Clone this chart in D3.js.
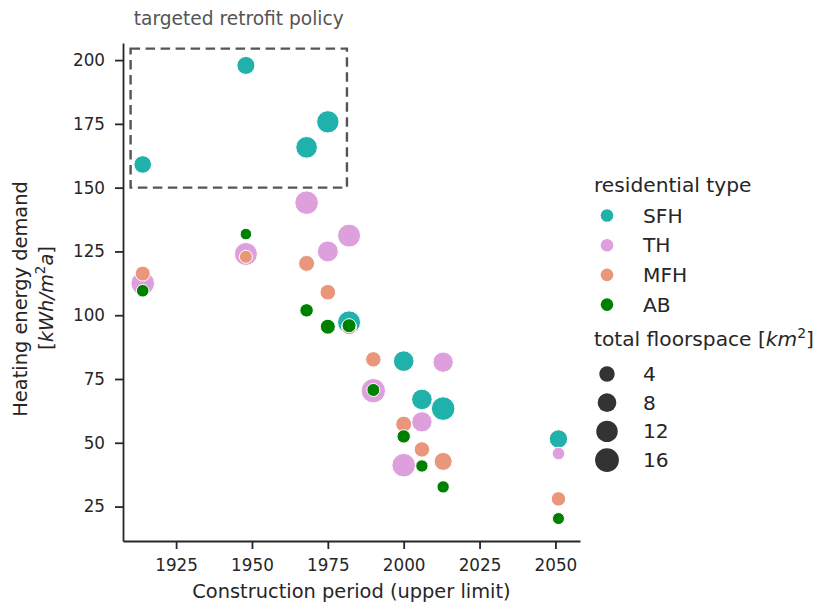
<!DOCTYPE html>
<html>
<head>
<meta charset="utf-8">
<script src="https://cdn.jsdelivr.net/npm/d3@7"></script>
<style>
  html, body { margin: 0; padding: 0; background: #fff; }
  svg { display: block; font-family: "DejaVu Sans", sans-serif; }
</style>
</head>
<body>
<svg id="chart" width="820" height="604"></svg>
<script>
// Construction period (upper limit) shared by all residential types
const years = [1914, 1948, 1968, 1975, 1982, 1990, 2000, 2006, 2013, 2051];

// Residential types and their colours
const types = ["SFH", "TH", "MFH", "AB"];
const typeColors = ["#20B2AA", "#DDA0DD", "#E9967A", "#008000"];

// Heating energy demand [kWh/m²a] per type and period (null = no stock)
const sfhDemand = [159.1, 197.9, 165.8, 175.8, 97.2, null, 82.0, 67.0, 63.4, 51.5];
const thDemand  = [112.5, 124.0, 144.1, 125.0, 131.2, 70.4, 41.2, 58.2, 81.6, 45.8];
const mfhDemand = [116.3, 122.9, 120.3, 109.0, 95.3, 82.7, 57.3, 47.4, 42.7, 28.0];
const abDemand  = [109.6, 131.8, 101.9, 95.5, 95.9, 70.7, 52.5, 40.9, 32.7, 20.3];

// Total floorspace [km²] per type and period
const sfhFloor = [6.6, 7.1, 12.3, 13.5, 14.5, null, 10.7, 10.7, 15.5, 7.6];
const thFloor  = [15.5, 14.5, 15.5, 11.3, 14.5, 16.9, 15.5, 10.4, 10.4, 1.1];
const mfhFloor = [3.5, 1.5, 4.6, 4.2, 3.5, 4.0, 4.6, 4.0, 7.1, 2.9];
const abFloor  = [1.1, 0.2, 1.9, 3.5, 2.5, 1.5, 1.9, 0.9, 0.9, 0.6];

// Axis ticks and size-legend entries
const xTicks = [1925, 1950, 1975, 2000, 2025, 2050];
const yTicks = [25, 50, 75, 100, 125, 150, 175, 200];
const sizeLegend = [4, 8, 12, 16];

// Highlighted region for the retrofit policy: [x0, x1] years, [y0, y1] demand
const policyYears = [1910, 1981.3];
const policyDemand = [150, 204.5];

const demandByType = [sfhDemand, thDemand, mfhDemand, abDemand];
const floorByType = [sfhFloor, thFloor, mfhFloor, abFloor];

const points = [];
types.forEach((t, ti) => {
  years.forEach((yr, i) => {
    const d = demandByType[ti][i];
    const f = floorByType[ti][i];
    if (d != null && f != null) points.push({ type: t, year: yr, demand: d, floor: f });
  });
});

const svg = d3.select("#chart");
const plotLeft = 123, plotRight = 580, plotTop = 43, plotBottom = 541;
const ink = "#262626";
const mathFont = "'DejaVu Sans', sans-serif";

const x = d3.scaleLinear().domain([1907.5, 2058.1]).range([plotLeft, plotRight]);
const y = d3.scaleLinear().domain([11.5, 206.7]).range([plotBottom, plotTop]);
const color = d3.scaleOrdinal().domain(types).range(typeColors);
// marker area grows linearly with floorspace
const area = d3.scaleLinear().domain([0, 16]).range([32, 142.4]);
const radius = v => Math.sqrt(area(v));

// Dashed policy box
svg.append("rect")
  .attr("x", x(policyYears[0]))
  .attr("y", y(policyDemand[1]))
  .attr("width", x(policyYears[1]) - x(policyYears[0]))
  .attr("height", y(policyDemand[0]) - y(policyDemand[1]))
  .attr("fill", "none")
  .attr("stroke", "#555")
  .attr("stroke-width", 2.4)
  .attr("stroke-dasharray", "9.5,5.5");

svg.append("text")
  .attr("x", (x(policyYears[0]) + x(policyYears[1])) / 2)
  .attr("y", 25)
  .attr("text-anchor", "middle")
  .attr("font-size", 18.6)
  .attr("fill", "#555")
  .text("targeted retrofit policy");

// Points
svg.append("g")
  .selectAll("circle")
  .data(points)
  .join("circle")
  .attr("cx", d => x(d.year))
  .attr("cy", d => y(d.demand))
  .attr("r", d => radius(d.floor))
  .attr("fill", d => color(d.type))
  .attr("stroke", "#fff")
  .attr("stroke-width", 1);

// Axes
const xAxis = svg.append("g")
  .attr("transform", `translate(0,${plotBottom})`)
  .call(d3.axisBottom(x).tickValues(xTicks).tickFormat(d3.format("d")).tickSize(8).tickPadding(10).tickSizeOuter(0));
const yAxis = svg.append("g")
  .attr("transform", `translate(${plotLeft},0)`)
  .call(d3.axisLeft(y).tickValues(yTicks).tickSize(8).tickPadding(10).tickSizeOuter(0));

[xAxis, yAxis].forEach(g => {
  g.select(".domain").attr("stroke", ink).attr("stroke-width", 1.8);
  g.selectAll(".tick line").attr("stroke", ink).attr("stroke-width", 1.8);
  g.selectAll(".tick text").attr("fill", ink).attr("font-size", 16.8)
    .attr("font-family", "'DejaVu Sans', sans-serif");
});

// Axis labels
svg.append("text")
  .attr("x", (plotLeft + plotRight) / 2)
  .attr("y", 598)
  .attr("text-anchor", "middle")
  .attr("font-size", 19.4)
  .attr("fill", ink)
  .text("Construction period (upper limit)");

svg.append("text")
  .attr("transform", "translate(27,299) rotate(-90)")
  .attr("text-anchor", "middle")
  .attr("font-size", 19.4)
  .attr("fill", ink)
  .text("Heating energy demand");

const yl2 = svg.append("text")
  .attr("transform", "translate(53,298) rotate(-90)")
  .attr("text-anchor", "middle")
  .attr("font-size", 19.4)
  .attr("fill", ink);
yl2.append("tspan").text("[");
yl2.append("tspan").attr("font-family", mathFont).attr("font-style", "italic").text("kWh/m");
yl2.append("tspan").attr("font-size", 13.5).attr("dy", -8).text("2");
yl2.append("tspan").attr("font-family", mathFont).attr("font-style", "italic").attr("dy", 8).text("a");
yl2.append("tspan").text("]");

// Legend: residential type
const lg = svg.append("g");
lg.append("text").attr("x", 594).attr("y", 192).attr("font-size", 20.2).attr("fill", ink).text("residential type");
types.forEach((t, i) => {
  const cy = 215.5 + i * 29.7;
  lg.append("circle").attr("cx", 607).attr("cy", cy).attr("r", 6.3).attr("fill", color(t));
  lg.append("text").attr("x", 643).attr("y", cy + 7).attr("font-size", 20.2).attr("fill", ink).text(t);
});

// Legend: total floorspace
const st = lg.append("text").attr("x", 594).attr("y", 346).attr("font-size", 20.2).attr("fill", ink);
st.append("tspan").text("total floorspace [");
st.append("tspan").attr("font-family", mathFont).attr("font-style", "italic").text("km");
st.append("tspan").attr("font-size", 14).attr("dy", -8).text("2");
st.append("tspan").attr("dy", 8).text("]");

sizeLegend.forEach((v, i) => {
  const cy = 374 + i * 28.7;
  lg.append("circle").attr("cx", 607).attr("cy", cy).attr("r", radius(v)).attr("fill", "#333");
  lg.append("text").attr("x", 643).attr("y", cy + 7).attr("font-size", 20.2).attr("fill", ink).text(v);
});
</script>
</body>
</html>
